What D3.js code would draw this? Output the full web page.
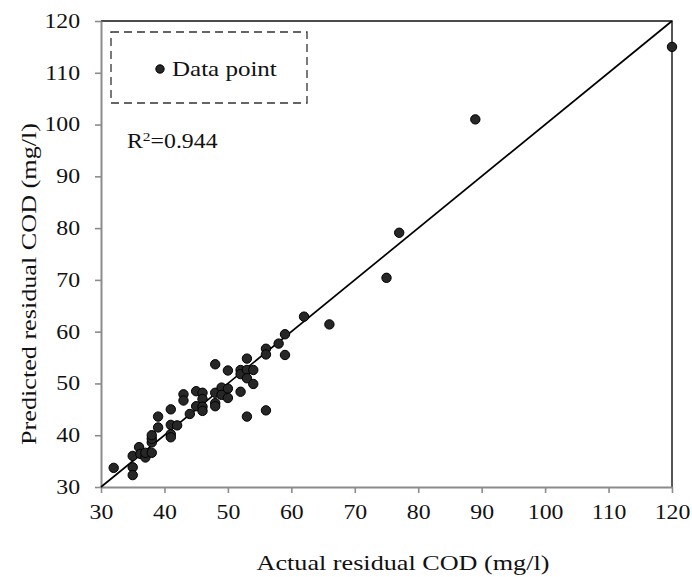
<!DOCTYPE html>
<html>
<head>
<meta charset="utf-8">
<script src="https://cdn.jsdelivr.net/npm/d3@7"></script>
<style>
  body { margin: 0; background: #fff; }
  svg text { font-family: "Liberation Serif", "Times New Roman", serif; fill: #111; }
</style>
</head>
<body>
<div class="chart"></div>
<script>
// measured vs predicted residual COD (mg/l)
const actual = [32, 35, 35, 35, 36, 36.2, 37, 37, 38, 38, 38, 38, 39, 39, 41, 41, 41, 41, 42, 43, 43, 44, 45, 45,
  46, 46, 46, 46, 48, 48, 48, 48, 49, 49, 50, 50, 50, 52, 52, 52, 53, 53, 53, 53, 54, 54, 56, 56, 56, 58, 59, 59,
  62, 66, 75, 77, 89, 120];
const predicted = [33.7, 36.0, 33.8, 32.3, 37.7, 36.4, 35.7, 36.6, 36.6, 38.6, 39.3, 40.0, 41.5, 43.6, 45.0, 42.0,
  40.2, 39.6, 41.9, 47.9, 46.7, 44.1, 48.5, 45.6, 48.2, 47.0, 45.5, 44.7, 53.7, 48.2, 46.2, 45.6, 49.2, 47.8, 52.5,
  49.0, 47.2, 52.6, 51.8, 48.4, 54.8, 52.6, 51.0, 43.6, 52.6, 49.9, 56.7, 55.6, 44.8, 57.7, 59.5, 55.5, 62.9, 61.4,
  70.4, 79.1, 101.0, 115.0];
const xTicks = [30, 40, 50, 60, 70, 80, 90, 100, 110, 120];
const yTicks = [30, 40, 50, 60, 70, 80, 90, 100, 110, 120];
const fitLine = [30, 120]; // 1:1 line
const legendLabel = 'Data point';
const r2Label = '0.944';

const W = 692, H = 577;
const margin = { top: 21, right: 20, bottom: 90, left: 101 };
const width = W - margin.left - margin.right;
const height = H - margin.top - margin.bottom;
const wide = 1.19; // the reference font is drawn wider than Times

const points = actual.map((a, i) => ({ a, p: predicted[i] }));

const svg = d3.select('.chart')
  .append('svg')
  .attr('width', W)
  .attr('height', H);

const g = svg.append('g')
  .attr('transform', `translate(${margin.left}, ${margin.top})`);

const x = d3.scaleLinear().domain([30, 120]).range([0, width]);
const y = d3.scaleLinear().domain([30, 120]).range([height, 0]);

// top & right frame
g.append('path')
  .attr('d', `M0,0H${width}V${height}`)
  .attr('fill', 'none')
  .attr('stroke', '#111')
  .attr('stroke-width', 1.4);

const xAxis = g.append('g')
  .attr('transform', `translate(0, ${height})`)
  .call(d3.axisBottom(x).tickValues(xTicks).tickSize(6).tickPadding(12).tickSizeOuter(0));

const yAxis = g.append('g')
  .call(d3.axisLeft(y).tickValues(yTicks).tickSize(6).tickPadding(11.6).tickSizeOuter(0));

[xAxis, yAxis].forEach(ax => {
  ax.select('.domain').attr('stroke', '#8c8c8c').attr('stroke-width', 2);
  ax.selectAll('.tick line').attr('stroke', '#8c8c8c').attr('stroke-width', 1.6);
  ax.selectAll('.tick text')
    .attr('font-size', 20)
    .attr('font-family', '"Liberation Serif", serif')
    .attr('fill', '#111')
    .attr('transform', `scale(${wide},1)`);
});

// 1:1 line
g.append('line')
  .attr('x1', x(fitLine[0])).attr('y1', y(fitLine[0]))
  .attr('x2', x(fitLine[1])).attr('y2', y(fitLine[1]))
  .attr('stroke', '#000')
  .attr('stroke-width', 1.7);

g.selectAll('circle.pt')
  .data(points)
  .enter()
  .append('circle')
  .attr('class', 'pt')
  .attr('cx', d => x(d.a))
  .attr('cy', d => y(d.p))
  .attr('r', 4.7)
  .attr('fill', '#272727')
  .attr('stroke', '#000')
  .attr('stroke-width', 1);

// legend
const lg = g.append('g').attr('transform', 'translate(10, 11)');
lg.append('rect')
  .attr('width', 196).attr('height', 71)
  .attr('fill', 'none')
  .attr('stroke', '#333')
  .attr('stroke-width', 1.3)
  .attr('stroke-dasharray', '8,5');
lg.append('circle')
  .attr('cx', 49).attr('cy', 37)
  .attr('r', 4.2)
  .attr('fill', '#272727')
  .attr('stroke', '#000');
lg.append('text')
  .attr('transform', `translate(61, 44) scale(${wide},1)`)
  .attr('font-size', 21)
  .text(legendLabel);

const r2 = g.append('text')
  .attr('transform', `translate(26, 126.5) scale(${wide},1)`)
  .attr('font-size', 20);
r2.append('tspan').text('R');
r2.append('tspan').attr('font-size', 13).attr('dy', -7).text('2');
r2.append('tspan').attr('dy', 7).text('=' + r2Label);

// axis titles
svg.append('text')
  .attr('transform', `translate(403, 570) scale(${wide},1)`)
  .attr('text-anchor', 'middle')
  .attr('font-size', 22)
  .text('Actual residual COD (mg/l)');

svg.append('text')
  .attr('transform', `translate(36, 284) rotate(-90) scale(${wide},1)`)
  .attr('text-anchor', 'middle')
  .attr('font-size', 22)
  .text('Predicted residual COD (mg/l)');
</script>
</body>
</html>
